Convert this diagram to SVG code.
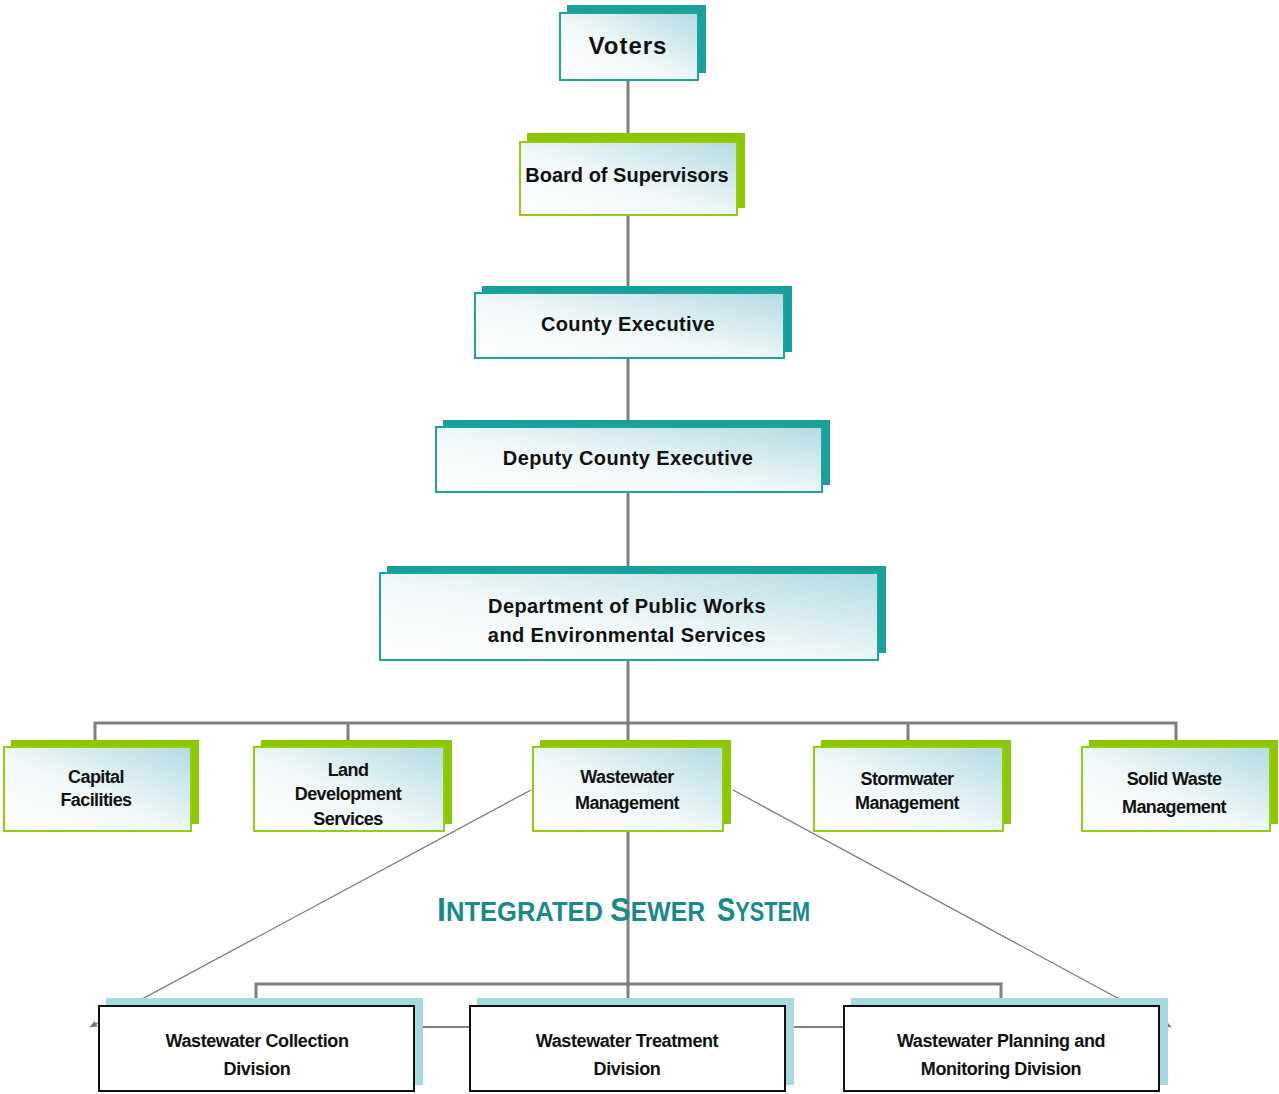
<svg xmlns="http://www.w3.org/2000/svg" width="1279" height="1094" viewBox="0 0 1279 1094">
<defs>
<linearGradient id="fillG" x1="0" y1="1" x2="1" y2="0">
<stop offset="0" stop-color="#ffffff"/>
<stop offset="0.45" stop-color="#f1f8f9"/>
<stop offset="1" stop-color="#b3dbe2"/>
</linearGradient>
<marker id="arr" viewBox="0 0 10 10" refX="9" refY="5" markerWidth="6" markerHeight="6" orient="auto">
<path d="M0,1 L10,5 L0,9 z" fill="#777"/>
</marker>
</defs>
<style>
.sh-teal{fill:#17a09c}
.sh-green{fill:#8dc703}
.sh-blue{fill:#a9d9e0}
.fr-teal{fill:url(#fillG);stroke:#1ea39e;stroke-width:2}
.fr-green{fill:url(#fillG);stroke:#94cc10;stroke-width:2}
.fr-white{fill:#ffffff;stroke:#111;stroke-width:2}
.conn{stroke:#808080;stroke-width:3;fill:none}
.thin{stroke:#7a7a7a;stroke-width:1.3;fill:none}
.t{font-family:"Liberation Sans",Arial,sans-serif;font-weight:bold;fill:#111;text-anchor:middle}
.t1{font-size:20px;letter-spacing:0.4px}
.t2{font-size:18px;letter-spacing:-0.6px}
.t3{font-size:18px;letter-spacing:-0.4px}
.title{font-family:"Liberation Sans",Arial,sans-serif;font-weight:bold;fill:#178a8a;font-size:27px}
.cap{font-size:34px}
</style>
<rect width="1279" height="1094" fill="#ffffff"/>
<g id="connectors">
<line class="conn" x1="628" y1="80" x2="628" y2="1005"/>
<polyline class="conn" points="95,741 95,723 1176,723 1176,741"/>
<line class="conn" x1="348" y1="723" x2="348" y2="741"/>
<line class="conn" x1="908" y1="723" x2="908" y2="741"/>
<polyline class="conn" points="256,999 256,984 1001,984 1001,999"/>
<line class="conn" x1="414" y1="1027" x2="470" y2="1027" style="stroke-width:2"/>
<line class="conn" x1="785" y1="1027" x2="844" y2="1027" style="stroke-width:2"/>
<line class="thin" x1="531" y1="790" x2="90" y2="1027" marker-end="url(#arr)"/>
<line class="thin" x1="733" y1="790" x2="1171" y2="1027" marker-end="url(#arr)"/>
</g>
<g id="voters">
<rect class="sh-teal" x="567" y="5" width="139" height="68"/>
<rect class="fr-teal" x="560" y="13" width="138" height="67"/>
<text class="t" x="628" y="54" style="font-size:24px;letter-spacing:1px">Voters</text>
</g>
<g id="board">
<rect class="sh-green" x="527" y="133" width="218" height="75"/>
<rect class="fr-green" x="520" y="142" width="217" height="73"/>
<text class="t t1" x="627" y="182" style="letter-spacing:0">Board of Supervisors</text>
</g>
<g id="county-exec">
<rect class="sh-teal" x="482" y="286" width="310" height="66"/>
<rect class="fr-teal" x="475" y="293" width="309" height="65"/>
<text class="t t1" x="628" y="331">County Executive</text>
</g>
<g id="deputy">
<rect class="sh-teal" x="443" y="420" width="387" height="65"/>
<rect class="fr-teal" x="436" y="427" width="386" height="65"/>
<text class="t t1" x="628" y="465">Deputy County Executive</text>
</g>
<g id="dpwes">
<rect class="sh-teal" x="387" y="566" width="499" height="87"/>
<rect class="fr-teal" x="380" y="573" width="498" height="87"/>
<text class="t t1" x="627" y="613">Department of Public Works</text>
<text class="t t1" x="627" y="642">and Environmental Services</text>
</g>
<g id="capital">
<rect class="sh-green" x="11" y="740" width="188" height="84"/>
<rect class="fr-green" x="4" y="747" width="187" height="84"/>
<text class="t t2" x="96" y="783">Capital</text>
<text class="t t2" x="96" y="806">Facilities</text>
</g>
<g id="land">
<rect class="sh-green" x="261" y="740" width="191" height="84"/>
<rect class="fr-green" x="254" y="747" width="190" height="84"/>
<text class="t t2" x="348" y="776">Land</text>
<text class="t t2" x="348" y="800">Development</text>
<text class="t t2" x="348" y="825">Services</text>
</g>
<g id="wastewater-mgmt">
<rect class="sh-green" x="540" y="740" width="191" height="84"/>
<rect class="fr-green" x="533" y="747" width="190" height="84"/>
<text class="t t2" x="627" y="783">Wastewater</text>
<text class="t t2" x="627" y="809">Management</text>
</g>
<g id="stormwater">
<rect class="sh-green" x="821" y="740" width="190" height="84"/>
<rect class="fr-green" x="814" y="747" width="189" height="84"/>
<text class="t t2" x="907" y="785">Stormwater</text>
<text class="t t2" x="907" y="809">Management</text>
</g>
<g id="solid-waste">
<rect class="sh-green" x="1089" y="740" width="189" height="84"/>
<rect class="fr-green" x="1082" y="747" width="188" height="84"/>
<text class="t t2" x="1174" y="785">Solid Waste</text>
<text class="t t2" x="1174" y="813">Management</text>
</g>
<g id="title">
<text class="title" x="437" y="921" textLength="166" lengthAdjust="spacingAndGlyphs"><tspan class="cap">I</tspan>NTEGRATED</text>
<text class="title" x="610" y="921" textLength="95" lengthAdjust="spacingAndGlyphs"><tspan class="cap">S</tspan>EWER</text>
<text class="title" x="717" y="921" textLength="93" lengthAdjust="spacingAndGlyphs"><tspan class="cap">S</tspan>YSTEM</text>
</g>
<g id="collection">
<rect class="sh-blue" x="106" y="998" width="317" height="87"/>
<rect class="fr-white" x="99" y="1006" width="315" height="85"/>
<text class="t t3" x="257" y="1047">Wastewater Collection</text>
<text class="t t3" x="257" y="1075">Division</text>
</g>
<g id="treatment">
<rect class="sh-blue" x="477" y="998" width="317" height="87"/>
<rect class="fr-white" x="470" y="1006" width="315" height="85"/>
<text class="t t3" x="627" y="1047">Wastewater Treatment</text>
<text class="t t3" x="627" y="1075">Division</text>
</g>
<g id="planning">
<rect class="sh-blue" x="851" y="998" width="317" height="87"/>
<rect class="fr-white" x="844" y="1006" width="315" height="85"/>
<text class="t t3" x="1001" y="1047">Wastewater Planning and</text>
<text class="t t3" x="1001" y="1075">Monitoring Division</text>
</g>
</svg>
